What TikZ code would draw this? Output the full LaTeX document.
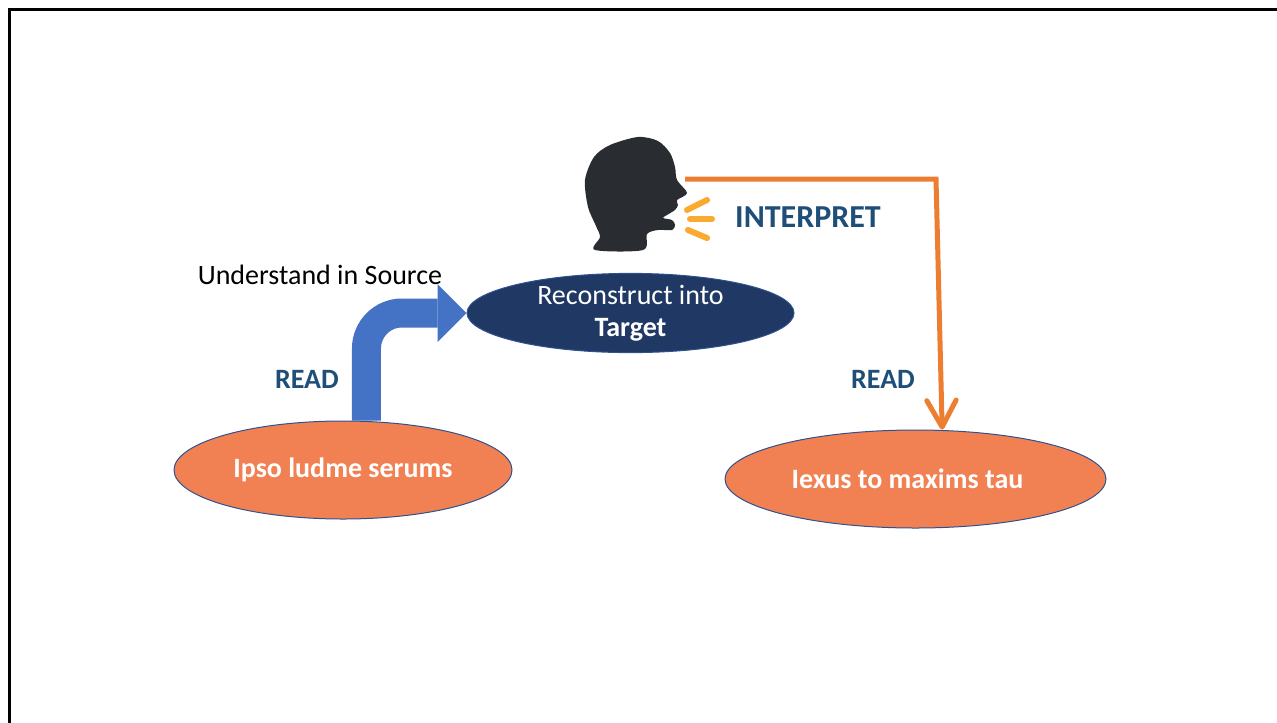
\documentclass[tikz,border=0pt]{standalone}
\usepackage{fontspec}
\setmainfont{Carlito}
\usepackage{xcolor}
\usetikzlibrary{shapes,arrows.meta,positioning}
\definecolor{blobfill}{HTML}{F18153}
\definecolor{rimblue}{HTML}{2F528F}
\definecolor{navy}{HTML}{203864}
\definecolor{arrowblue}{HTML}{4472C4}
\definecolor{wordblue}{HTML}{1F4E79}
\definecolor{lineorange}{HTML}{ED7D31}
\definecolor{buzzyellow}{HTML}{FAAA2F}
\definecolor{headgray}{HTML}{292D32}

\begin{document}
\begin{tikzpicture}[x=0.75pt, y=-0.75pt,
    blob/.style={ellipse, draw=rimblue, line width=0.75pt, fill=blobfill, text=white, inner sep=0pt, font=\bfseries\fontsize{21}{25}\selectfont},
    word/.style={text=wordblue, font=\bfseries\fontsize{21}{25}\selectfont},
    readarrow/.style={draw=arrowblue, line width=21.75pt, rounded corners=26.6pt, -{Triangle[length=21.75pt, width=43.5pt, line width=0pt]}},
    interp/.style={draw=lineorange, line width=3.75pt, -{Straight Barb[length=20pt, width=22pt, round]}},
    buzz/.style={draw=buzzyellow, line width=4.5pt, line cap=round}]
    \useasboundingbox (0,0) rectangle (1277,722);
    \draw[line width=1.8pt] (9.5,9.5) rectangle (1300,750);

    \node[blob, minimum width=253.5pt, minimum height=73.5pt] (src) at (343,470) {Ipso ludme serums};
    \node[blob, minimum width=285.75pt, minimum height=73.5pt] (dst) at (915.5,479) {Iexus to maxims tau\kern12pt};
    \node[ellipse, draw=rimblue, line width=0.75pt, fill=navy, text=white, inner sep=0pt, align=center,
          minimum width=245.25pt, minimum height=51pt, font=\fontsize{21}{24}\selectfont] (recon) at (630.5,313)
          {Reconstruct into\\\textbf{Target}};

    \node[font=\fontsize{21}{25}\selectfont] (understand) at (320,275) {Understand in Source};
    \node[word] (readL) at (307,379) {READ};
    \node[word] (readR) at (883,379) {READ};
    \node[word, font=\bfseries\fontsize{24}{28}\selectfont] (interpret) at (808,217) {INTERPRET};

    \fill[headgray] plot[smooth cycle, tension=0.5] coordinates {
        (638,137) (658,141) (670,153) (675,167) (677,180) (687,193) (677,200) (678,205)
        (675,210) (667,215) (663,218) (672,220) (675,225) (672,230) (658,230) (647,234)
        (643,250) (595,250) (600,237) (596,226) (588,207) (585,180) (594,157) (610,145)};
    \draw[buzz] (687,210) -- (707,200);
    \draw[buzz] (690,219) -- (712,219);
    \draw[buzz] (688,230) -- (707,238);

    \coordinate (mouth) at (685,179);
    \coordinate (turn) at (936,179);
    \draw[readarrow] ([xshift=17.6pt]src.north) |- (recon.west);
    \draw[interp] (mouth) -- (turn) -- ([xshift=20pt]dst.north);
\end{tikzpicture}
\end{document}
